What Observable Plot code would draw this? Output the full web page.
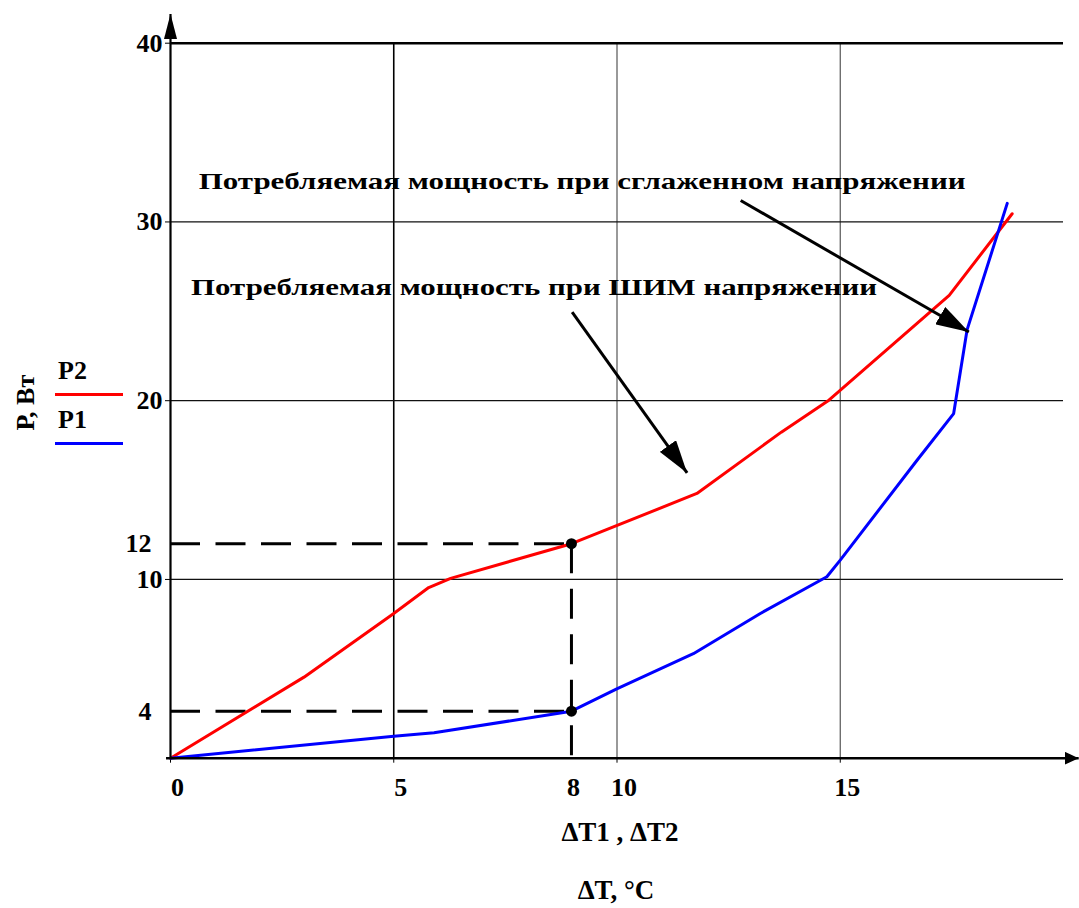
<!DOCTYPE html>
<html>
<head>
<meta charset="utf-8">
<script src="https://cdn.jsdelivr.net/npm/d3@7"></script>
<script src="https://cdn.jsdelivr.net/npm/@observablehq/plot@0.6"></script>
<style>
  html, body { margin: 0; padding: 0; background: #fff; }
  #chart { position: relative; width: 1079px; height: 908px; overflow: hidden; }
  .key { position: absolute; font: bold 26px "Liberation Serif", "Times New Roman", serif; line-height: 30px; color: #000; }
  .swatch { position: absolute; height: 3px; width: 68px; }
</style>
</head>
<body>
<div id="chart">
  <div class="key" style="left:58px; top:356px;">P2</div>
  <div class="swatch" style="left:55px; top:392.5px; background:#ff0000;"></div>
  <div class="key" style="left:58px; top:405px;">P1</div>
  <div class="swatch" style="left:55px; top:441.5px; background:#0000ff;"></div>
</div>
<script>
// P2 — power with smoothed supply voltage (red), ΔT in °C, P in W
const dtP2 = [0, 2.99, 5.0, 5.59, 5.96, 8, 11.79, 13.68, 14.72, 17.44, 18.85];
const p2   = [0, 5.55, 8.45, 9.63, 10.06, 12, 14.81, 18.24, 19.98, 25.89, 30.46];

// P1 — power with PWM supply voltage (blue)
const dtP1 = [0, 5, 5.68, 8, 9.99, 11.71, 13.21, 14.70, 15.0, 16.72, 17.54, 17.84, 18.74];
const p1   = [0, 1.87, 2.16, 4, 5.02, 6.62, 8.45, 10.15, 11.08, 16.67, 19.28, 23.96, 31.04];

// operating point marked on both curves
const markDT = 8;
const markP = [12, 4];

// axis ticks
const xTicks = [0, 5, 10, 15];
const yTicks = [10, 20, 30, 40];

// callouts
const noteText = [
  "Потребляемая мощность при сглаженном напряжении",
  "Потребляемая мощность при ШИМ напряжении"
];
const noteDT = [0.63, 0.46];
const noteP = [32.27, 26.35];
const arrowFromDT = [12.77, 8.03];
const arrowFromP = [31.2, 24.96];
const arrowToDT = [17.88, 11.57];
const arrowToP = [23.84, 15.96];

const series2 = dtP2.map((dt, i) => ({dt, p: p2[i]}));
const series1 = dtP1.map((dt, i) => ({dt, p: p1[i]}));
const marked = markP.map(p => ({dt: markDT, p}));
const notes = noteText.map((label, i) => ({label, dt: noteDT[i], p: noteP[i]}));
const arrows = noteText.map((_, i) => ({x1: arrowFromDT[i], y1: arrowFromP[i], x2: arrowToDT[i], y2: arrowToP[i]}));

// the axes are graduated unevenly between the labelled marks:
// piecewise maps from the labelled values onto an even grid
const warpX = d3.scaleLinear().domain([0, 5, 8, 10, 20]).range([0, 5, 8.98, 10, 20]);
const warpY = d3.scaleLinear().domain([0, 4, 10, 40]).range([0, 2.63, 10, 40]);

const serif = "Liberation Serif, Times New Roman, serif";
const label = {fontFamily: serif, fontWeight: "bold", fontSize: 26, fill: "black", lineAnchor: "middle"};

const plot = Plot.plot({
  width: 1079,
  height: 908,
  marginLeft: 170,
  marginRight: 16,
  marginTop: 42.7,
  marginBottom: 150.3,
  style: {background: "white", color: "black", overflow: "visible"},
  x: {
    domain: [0, 20], transform: warpX,
    axis: "bottom", ticks: xTicks, tickSize: 5, tickFormat: () => "", label: null
  },
  y: {
    domain: [0, 40], transform: warpY,
    axis: "left", ticks: yTicks, tickSize: 5, tickFormat: () => "", label: null
  },
  marks: [
    // grid
    Plot.ruleX([5], {stroke: "black", strokeWidth: 1.6}),
    Plot.ruleX([10, 15], {stroke: "#555", strokeWidth: 1.2}),
    Plot.ruleY([10, 20, 30], {stroke: "#111", strokeWidth: 1.3}),
    Plot.ruleY([40], {stroke: "black", strokeWidth: 2.6}),

    // dashed guides to the marked point
    Plot.ruleY(marked, {y: "p", x1: () => 0, x2: "dt", stroke: "black", strokeWidth: 3, strokeDasharray: "30,15.5"}),
    Plot.ruleX(marked.slice(0, 1), {x: "dt", y1: "p", y2: () => 0, stroke: "black", strokeWidth: 3, strokeDasharray: "30,15.5"}),

    // curves
    Plot.line(series2, {x: "dt", y: "p", stroke: "#ff0000", strokeWidth: 3, strokeLinejoin: "round"}),
    Plot.line(series1, {x: "dt", y: "p", stroke: "#0000ff", strokeWidth: 3, strokeLinejoin: "round"}),
    Plot.dot(marked, {x: "dt", y: "p", r: 5.5, fill: "black", stroke: null}),

    // axis lines with arrowheads
    Plot.link([{}], {x1: () => -0.1, x2: () => 20.34, y1: () => 0, y2: () => 0, stroke: "black", strokeWidth: 2.6}),
    Plot.link([{}], {x1: () => 0, x2: () => 0, y1: () => 0, y2: () => 41.64, stroke: "black", strokeWidth: 2.2}),

    // callout arrows
    Plot.link(arrows, {x1: "x1", y1: "y1", x2: "x2", y2: "y2", stroke: "black", strokeWidth: 3}),

    // tick labels
    Plot.text(xTicks, {x: d => d, text: d => String(d), frameAnchor: "bottom", dy: 29, dx: 7, ...label}),
    Plot.text([markDT], {x: d => d, text: d => String(d), frameAnchor: "bottom", dy: 29, dx: 2, ...label}),
    Plot.text(yTicks, {y: d => d, text: d => String(d), frameAnchor: "left", textAnchor: "end", dx: -8, ...label}),
    Plot.text(markP, {y: d => d, text: d => String(d), frameAnchor: "left", textAnchor: "end", dx: -19, ...label}),

    // axis titles
    Plot.text(["ΔT1 , ΔT2"], {text: d => d, frameAnchor: "bottom", textAnchor: "middle", dx: 3, dy: 74, ...label, fontSize: 27}),
    Plot.text(["ΔT, °C"], {text: d => d, frameAnchor: "bottom", textAnchor: "middle", dx: -1, dy: 132, ...label, fontSize: 27}),
    Plot.text(["Р, Вт"], {text: d => d, frameAnchor: "left", textAnchor: "middle", dx: -145, dy: 2, rotate: -90, ...label}),

    // callout texts
    Plot.text(notes, {x: "dt", y: "p", text: "label", textAnchor: "start", ...label, fontSize: 23})
  ]
});

const svg = d3.select(plot);
const defs = svg.append("defs");
function head(id, len, wid) {
  defs.append("marker")
    .attr("id", id)
    .attr("viewBox", `0 0 ${len} ${wid}`)
    .attr("refX", len).attr("refY", wid / 2)
    .attr("markerWidth", len).attr("markerHeight", wid)
    .attr("markerUnits", "userSpaceOnUse")
    .attr("orient", "auto")
    .append("path")
    .attr("d", `M0,0L${len},${wid / 2}L0,${wid}Z`)
    .attr("fill", "black");
}
head("head-x", 14, 13);
head("head-y", 25, 13);
head("head-note", 33, 20);

const heads = ["head-x", "head-y", "head-note"];
svg.selectAll('g[aria-label="link"]').each(function (_, i) {
  d3.select(this).selectAll("path").attr("marker-end", `url(#${heads[i]})`);
});

// stretch the callout captions to their drawn widths
const noteWidth = [767, 686];
svg.selectAll("text").each(function () {
  const k = noteText.indexOf(this.textContent);
  if (k >= 0) {
    this.setAttribute("textLength", noteWidth[k]);
    this.setAttribute("lengthAdjust", "spacingAndGlyphs");
  }
});

document.getElementById("chart").prepend(plot);
plot.style.position = "absolute";
plot.style.left = "0";
plot.style.top = "0";
</script>
</body>
</html>
